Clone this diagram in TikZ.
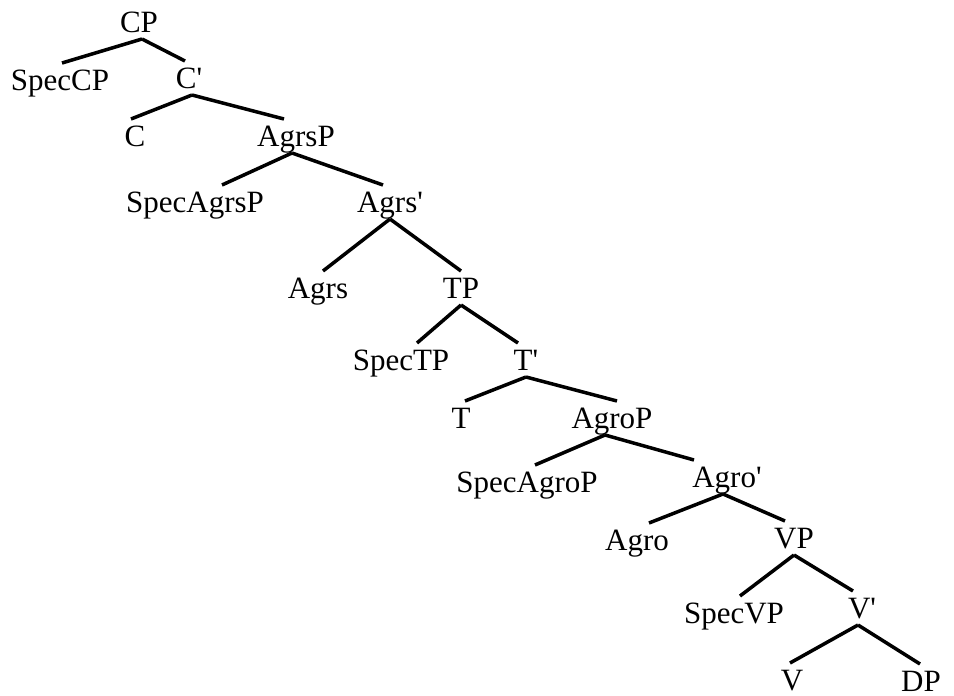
\documentclass[tikz,border=0pt]{standalone}
\usepackage{fontspec}
\setmainfont{Liberation Serif}
\tikzset{
  lbl/.style={anchor=base, inner sep=0pt, outer sep=0pt, text height=27pt,
    text depth=7pt, font=\fontsize{31}{37}\selectfont},
  branch/.style={draw=black, line width=3.5pt, line cap=butt, line join=miter}
}

\begin{document}
\begin{tikzpicture}[x=1pt,y=1pt,yscale=-1]
  \useasboundingbox (0,0) rectangle (954,696);
  \node[lbl] (CP) at (139,32) {CP};
  \node[lbl] (SpecCP) at (60,90) {SpecCP};
  \node[lbl] (Cbar) at (189,88) {C\textquotesingle};
  \node[lbl] (C) at (135,146) {C};
  \node[lbl] (AgrsP) at (296,146) {AgrsP};
  \node[lbl] (SpecAgrsP) at (195,212) {SpecAgrsP};
  \node[lbl] (Agrsbar) at (390,212) {Agrs\textquotesingle};
  \node[lbl] (Agrs) at (318,298) {Agrs};
  \node[lbl] (TP) at (461,298) {TP};
  \node[lbl] (SpecTP) at (401,370) {SpecTP};
  \node[lbl] (Tbar) at (526,370) {T\textquotesingle};
  \node[lbl] (T) at (461,428) {T};
  \node[lbl] (AgroP) at (612,428) {AgroP};
  \node[lbl] (SpecAgroP) at (527,492) {SpecAgroP};
  \node[lbl] (Agrobar) at (727,487) {Agro\textquotesingle};
  \node[lbl] (Agro) at (637,550) {Agro};
  \node[lbl] (VP) at (794,548) {VP};
  \node[lbl] (SpecVP) at (734,623) {SpecVP};
  \node[lbl] (Vbar) at (862,618) {V\textquotesingle};
  \node[lbl] (V) at (792,690) {V};
  \node[lbl] (DP) at (921,691) {DP};

  \path[branch] ([xshift=3]CP.south) -- ([xshift=2]SpecCP.north);
  \path[branch] ([xshift=3]CP.south) -- ([xshift=-4]Cbar.north);
  \path[branch] ([xshift=3]Cbar.south) -- ([xshift=-4]C.north);
  \path[branch] ([xshift=3]Cbar.south) -- ([xshift=-12]AgrsP.north);
  \path[branch] ([xshift=-4]AgrsP.south) -- ([xshift=27]SpecAgrsP.north);
  \path[branch] ([xshift=-4]AgrsP.south) -- ([xshift=-7]Agrsbar.north);
  \path[branch] (Agrsbar.south) -- ([xshift=5]Agrs.north);
  \path[branch] (Agrsbar.south) -- (TP.north);
  \path[branch] (TP.south) -- ([xshift=16]SpecTP.north);
  \path[branch] (TP.south) -- ([xshift=-8]Tbar.north);
  \path[branch] (Tbar.south) -- ([xshift=4]T.north);
  \path[branch] (Tbar.south) -- ([xshift=5]AgroP.north);
  \path[branch] ([xshift=-7]AgroP.south) -- ([xshift=8]SpecAgroP.north);
  \path[branch] ([xshift=-7]AgroP.south) -- ([xshift=-33]Agrobar.north);
  \path[branch] ([xshift=-4]Agrobar.south) -- ([xshift=12]Agro.north);
  \path[branch] ([xshift=-4]Agrobar.south) -- ([xshift=-9]VP.north);
  \path[branch] (VP.south) -- ([xshift=6]SpecVP.north);
  \path[branch] (VP.south) -- ([xshift=-9]Vbar.north);
  \path[branch] ([xshift=-4]Vbar.south) -- ([xshift=-2]V.north);
  \path[branch] ([xshift=-4]Vbar.south) -- ([xshift=-1]DP.north);
\end{tikzpicture}
\end{document}
